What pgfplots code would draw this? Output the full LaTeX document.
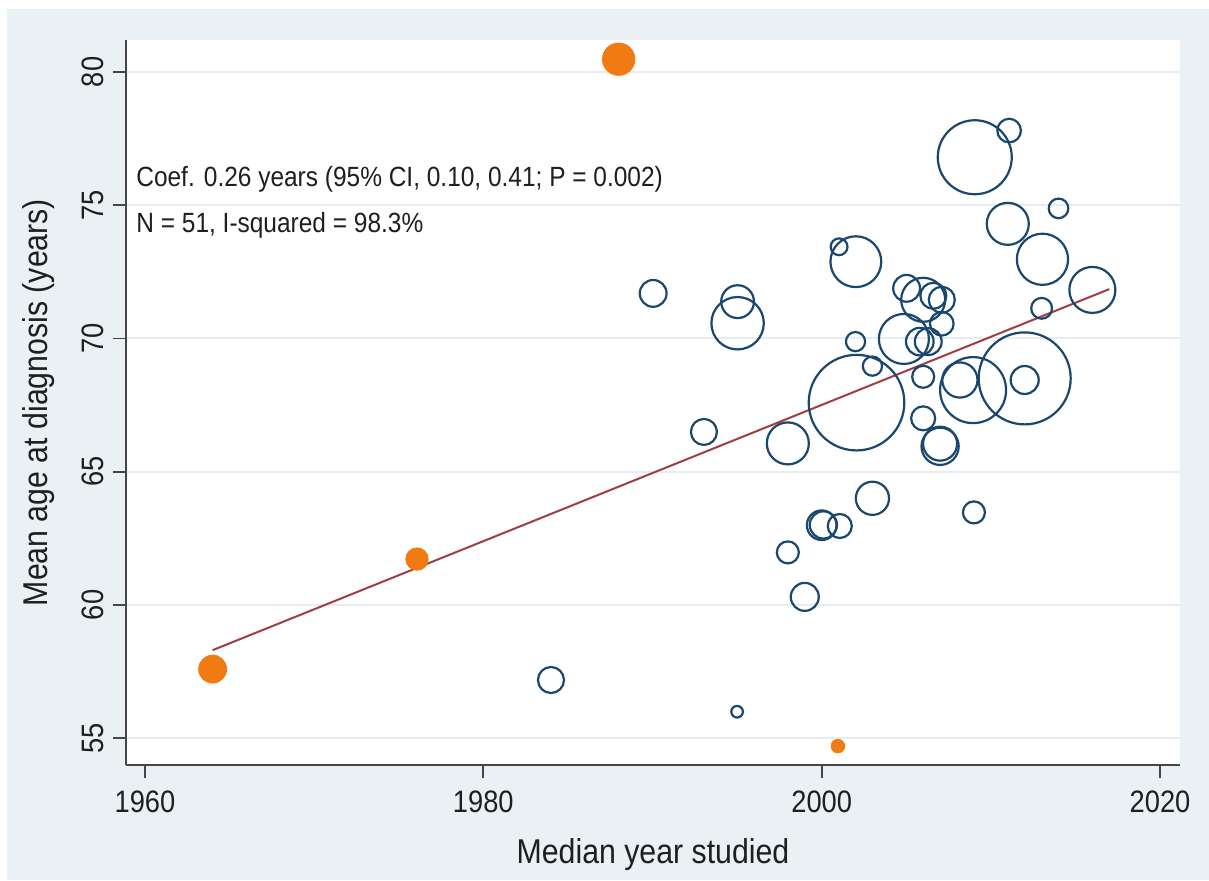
\documentclass[border=0pt]{standalone}
\usepackage{fontspec}
\setmainfont{Liberation Sans}[FakeStretch=0.88]
\usepackage{pgfplots}
\usepackage{pgfplotstable}
\pgfplotsset{compat=1.18}

\definecolor{stnavy}{RGB}{26,71,111}
\definecolor{storange}{RGB}{242,122,18}
\definecolor{stmaroon}{RGB}{160,62,66}
\definecolor{bgray}{RGB}{234,241,244}
\definecolor{gridc}{RGB}{230,237,240}
\definecolor{axc}{RGB}{70,70,70}

% studies: median year, mean age, bubble radius (pt)
\pgfplotstableread{
x y r
2009.05 76.80 18.5
2011.08 77.80 5.9
2014.0 74.88 4.9
2011.0 74.30 10.5
2013.05 72.97 12.8
2016.0 71.82 11.5
2013.0 71.13 5.2
1990.04 71.69 6.7
1995.03 71.38 8.2
1995.03 70.57 13.1
2001.03 73.44 4.2
2002.02 72.88 12.7
2002.0 69.88 4.8
2003.0 68.96 4.8
2002.06 67.59 23.9
2005.02 71.88 6.7
2006.0 71.45 11.0
2006.6 71.60 6.5
2007.1 71.45 6.5
2007.1 70.55 5.9
2004.86 69.98 12.5
2005.8 69.88 6.9
2006.3 69.88 6.7
2006.0 68.56 5.5
2008.17 68.44 8.8
2008.95 68.06 16.5
2012.0 68.50 23.0
2012.0 68.44 7.0
2006.0 67.00 6.0
2007.0 65.95 9.3
2007.0 66.05 8.5
1998.0 66.06 10.5
2003.0 64.00 8.3
2009.0 63.47 5.5
2000.0 62.99 7.4
2000.1 63.00 6.8
2001.07 62.96 6.0
1998.0 61.97 5.5
1999.0 60.30 7.0
1995.0 55.99 2.9
1993.04 66.49 6.5
1984.0 57.18 6.5
}\studies

% highlighted studies (filled)
\pgfplotstableread{
x y r
1964.0 57.59 7.0
1976.08 61.72 5.6
1988.0 80.48 8.1
2000.96 54.70 3.4
}\outliers

\begin{document}
\begin{tikzpicture}
\path[use as bounding box] (-63pt,-57.5pt) rectangle (541.5pt,382.5pt);
\fill[white] (-63pt,-57.5pt) rectangle (541.5pt,382.5pt);
\fill[bgray] (-59.5pt,-57.5pt) rectangle (541.5pt,378pt);
\begin{axis}[
    scale only axis,
    width=527pt, height=362.5pt,
    xmin=1958.88, xmax=2021.18,
    ymin=53.99, ymax=81.2,
    axis x line*=bottom,
    axis y line*=left,
    axis line style={axc, line width=1.1pt},
    axis background/.style={fill=white},
    clip=false,
    xtick={1960,1980,2000,2020},
    ytick={55,60,65,70,75,80},
    tick align=outside,
    major tick length=6.5pt,
    major tick style={axc, line width=0.9pt},
    ymajorgrids,
    grid style={gridc, line width=1pt},
    /pgf/number format/assume math mode=true,
    /pgf/number format/1000 sep={},
    tick label style={font=\fontsize{15.5}{18}\selectfont, text=black!88},
    yticklabel style={rotate=90, anchor=south, inner sep=0pt},
    yticklabel shift=4.5pt,
    xticklabel style={inner sep=0pt, yshift=-6pt},
    xlabel={Median year studied},
    ylabel={Mean age at diagnosis (years)},
    every axis x label/.style={at={(axis description cs:0.5,0)}, anchor=center,
        yshift=-45pt, font=\fontsize{17.2}{20}\selectfont, text=black!88},
    every axis y label/.style={at={(axis description cs:0,0.5)}, xshift=-43.5pt,
        rotate=90, anchor=center, font=\fontsize{17.2}{20}\selectfont, text=black!88},
]
\addplot[scatter, only marks, mark=o, line width=1.1pt,
    scatter/use mapped color={draw=stnavy, fill=none},
    visualization depends on={\thisrow{r} \as \rr},
    scatter/@pre marker code/.append style={/tikz/mark size=\rr pt}]
    table[x=x, y=y] {\studies};
\addplot[stmaroon, line width=1pt] coordinates {(1964,58.3) (2017,71.85)};
\addplot[scatter, only marks, mark=*,
    scatter/use mapped color={draw=storange, fill=storange},
    visualization depends on={\thisrow{r} \as \rr},
    scatter/@pre marker code/.append style={/tikz/mark size=\rr pt}]
    table[x=x, y=y] {\outliers};
\node[anchor=base west, inner sep=0pt, font=\fontsize{13.9}{16}\selectfont, text=black!88] at (axis cs:1959.47,75.72) {Coef. 0.26 years (95\% CI, 0.10, 0.41; P = 0.002)};
\node[anchor=base west, inner sep=0pt, font=\fontsize{13.9}{16}\selectfont, text=black!88] at (axis cs:1959.47,73.99) {N = 51, I-squared = 98.3\%};
\end{axis}
\end{tikzpicture}
\end{document}
